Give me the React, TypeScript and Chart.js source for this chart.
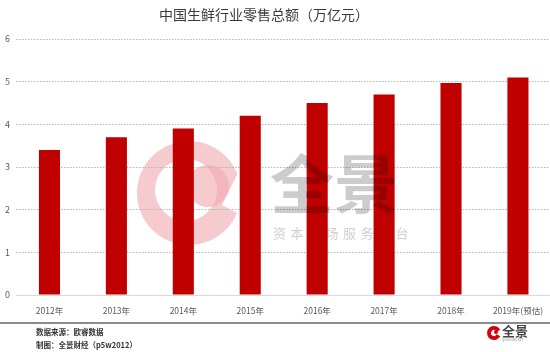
import React, { useEffect, useRef } from "react";
import { Chart, registerables } from "chart.js";

Chart.register(...registerables);

const categories = ["2012年", "2013年", "2014年", "2015年", "2016年", "2017年", "2018年", "2019年(预估)"];
const salesValues = [3.4, 3.7, 3.9, 4.2, 4.5, 4.7, 4.97, 5.1];
const titleText = "中国生鲜行业零售总额（万亿元）";
const sourceText = "数据来源：欧睿数据";
const makerText = "制图：全景财经（p5w2012）";
const FONT = '"Noto Sans CJK SC", "Noto Sans", sans-serif';

const decorPlugin = {
  id: "decor",
  beforeDraw(chart: any) {
    const ctx = chart.ctx;
    ctx.save();
    const pink = "rgba(240,168,175,0.6)";
    ctx.fillStyle = pink;
    ctx.beginPath();
    ctx.arc(189, 193, 52, 0, Math.PI * 2);
    ctx.fill();
    ctx.fillStyle = "#ffffff";
    ctx.beginPath();
    ctx.arc(186, 190, 31, 0, Math.PI * 2);
    ctx.fill();
    ctx.beginPath();
    ctx.moveTo(242, 165);
    ctx.lineTo(246, 218);
    ctx.lineTo(222, 205);
    ctx.closePath();
    ctx.fill();
    ctx.fillStyle = pink;
    ctx.beginPath();
    ctx.arc(208, 186, 21, 0, Math.PI * 2);
    ctx.fill();
    ctx.fillStyle = "#cfcfcf";
    ctx.font = `13px ${FONT}`;
    ctx.textBaseline = "middle";
    const sub = "资本市场服务平台";
    for (let i = 0; i < sub.length; i++) {
      ctx.fillText(sub[i], 273 + i * 17.5, 233);
    }
    ctx.restore();
  },
  afterDatasetsDraw(chart: any) {
    const ctx = chart.ctx;
    ctx.save();
    ctx.fillStyle = "rgba(0,0,0,0.2)";
    ctx.font = `bold 64px ${FONT}`;
    ctx.textBaseline = "middle";
    ctx.fillText("全景", 270, 184);
    ctx.restore();
  },
  afterDraw(chart: any) {
    const ctx = chart.ctx;
    ctx.save();
    ctx.fillStyle = "#3a3a3a";
    ctx.font = `14px ${FONT}`;
    ctx.textAlign = "center";
    ctx.textBaseline = "middle";
    ctx.fillText(titleText, 264, 15);
    ctx.strokeStyle = "#8c8c8c";
    ctx.lineWidth = 2;
    ctx.beginPath();
    ctx.moveTo(0, 323);
    ctx.lineTo(554, 323);
    ctx.stroke();
    ctx.textAlign = "left";
    ctx.fillStyle = "#333333";
    ctx.font = `bold 7.5px ${FONT}`;
    ctx.fillText(sourceText, 36, 332);
    ctx.fillText(makerText, 36, 345);
    ctx.strokeStyle = "#d7000f";
    ctx.lineWidth = 4;
    ctx.beginPath();
    ctx.arc(494, 333, 5, 0.15 * Math.PI, 1.85 * Math.PI);
    ctx.stroke();
    ctx.fillStyle = "#d7000f";
    ctx.beginPath();
    ctx.arc(496, 332, 2, 0, Math.PI * 2);
    ctx.fill();
    ctx.fillStyle = "#444444";
    ctx.font = `bold 13px ${FONT}`;
    ctx.fillText("全景", 502, 331);
    ctx.fillStyle = "#888888";
    ctx.font = `3px ${FONT}`;
    ctx.fillText("QUANJING NET", 502, 340);
    ctx.restore();
  },
};

export default function App() {
  const canvasRef = useRef<HTMLCanvasElement | null>(null);

  useEffect(() => {
    document.body.style.margin = "0";
    const canvas = canvasRef.current;
    if (!canvas) return;
    const chart = new Chart(canvas, {
      type: "bar",
      data: {
        labels: categories,
        datasets: [
          {
            data: salesValues,
            backgroundColor: "#c00000",
            borderWidth: 0,
            barPercentage: 1,
            categoryPercentage: 0.315,
          },
        ],
      },
      options: {
        responsive: false,
        animation: false,
        layout: { padding: { top: 39, left: 0, right: 0, bottom: 0 } },
        plugins: {
          legend: { display: false },
          title: { display: false },
          tooltip: { enabled: false },
        },
        scales: {
          x: {
            grid: { display: false, drawTicks: false },
            border: { display: true, color: "#d9d9d9", width: 1 },
            ticks: {
              color: "#595959",
              font: { size: 8.5, family: FONT },
              padding: 11,
              maxRotation: 0,
              autoSkip: false,
            },
            afterFit(scale: any) {
              scale.height = 57;
            },
          },
          y: {
            min: 0,
            max: 6,
            grid: {
              drawTicks: false,
              color: (c: any) => (c.tick && c.tick.value === 0 ? "rgba(0,0,0,0)" : "#b5b5b5"),
              lineWidth: 1,
            },
            border: { display: false, dash: [1.5, 1.5] },
            ticks: {
              stepSize: 1,
              color: "#595959",
              font: { size: 9, family: FONT },
              padding: 6,
            },
            afterFit(scale: any) {
              scale.width = 16;
            },
          },
        },
      },
      plugins: [decorPlugin],
    });
    return () => chart.destroy();
  }, []);

  return (
    <div style={{ width: 550, height: 352, position: "relative", overflow: "hidden", background: "#fff" }}>
      <canvas ref={canvasRef} width={554} height={352} style={{ display: "block" }} />
    </div>
  );
}
